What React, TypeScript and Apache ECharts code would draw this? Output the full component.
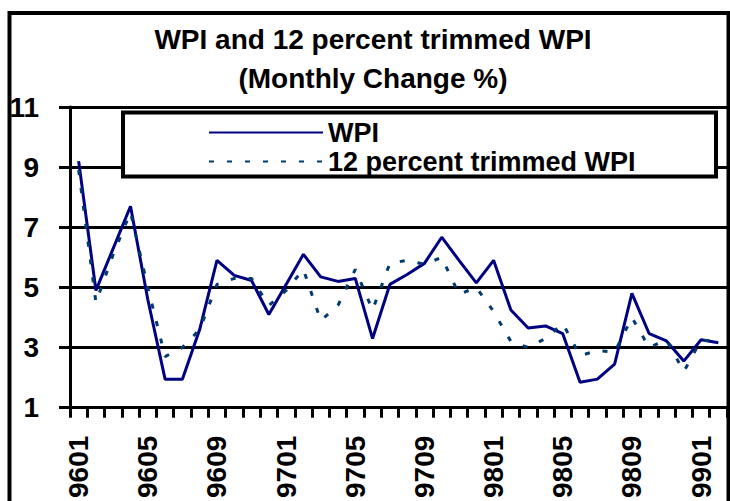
import React, { useEffect, useRef } from "react";
import * as echarts from "echarts";

const categories = [
  "9601", "9602", "9603", "9604", "9605", "9606", "9607", "9608", "9609", "9610", "9611", "9612",
  "9701", "9702", "9703", "9704", "9705", "9706", "9707", "9708", "9709", "9710", "9711", "9712",
  "9801", "9802", "9803", "9804", "9805", "9806", "9807", "9808", "9809", "9810", "9811", "9812",
  "9901", "9902",
];

const wpi = [
  9.2, 4.9, 6.3, 7.7, 4.6, 1.95, 1.95, 3.6, 5.9, 5.4, 5.23, 4.1,
  5.1, 6.1, 5.35, 5.2, 5.3, 3.3, 5.1, 5.43, 5.8, 6.67, 5.9, 5.15,
  5.9, 4.25, 3.65, 3.72, 3.46, 1.85, 1.95, 2.45, 4.8, 3.46, 3.22, 2.55,
  3.26, 3.16,
];

const trimmedWpi = [
  8.9, 4.5, 6.1, 7.5, 5.0, 2.7, 3.0, 3.6, 5.1, 5.3, 5.3, 4.4,
  4.9, 5.6, 3.9, 4.4, 5.6, 4.25, 5.8, 5.9, 5.77, 6.0, 4.77, 5.0,
  4.2, 3.2, 3.0, 3.3, 3.8, 2.73, 2.9, 2.85, 4.0, 3.0, 3.26, 2.2,
  3.25, 3.2,
];

const yTicks = { min: 1, max: 11, interval: 2 };

const FONT = '"Liberation Sans", Arial, sans-serif';

export default function App() {
  const ref = useRef<HTMLDivElement>(null);

  useEffect(() => {
    if (!ref.current) return;
    const chart = echarts.init(ref.current, undefined, { renderer: "svg" });
    chart.setOption({
      animation: false,
      backgroundColor: "#ffffff",
      title: {
        text: "WPI and 12 percent trimmed WPI\n(Monthly Change %)",
        left: 373,
        top: 20,
        textAlign: "center",
        padding: 0,
        textStyle: {
          fontFamily: FONT,
          fontSize: 28,
          fontWeight: "bold",
          color: "#000",
          lineHeight: 39,
        },
      },
      grid: { left: 70, right: 3, top: 107, bottom: 89, containLabel: false },
      legend: {
        orient: "vertical",
        left: 208,
        top: 118,
        padding: 0,
        itemWidth: 114,
        itemHeight: 10,
        itemGap: 0,
        z: 20,
        itemStyle: { opacity: 0 },
        textStyle: {
          fontFamily: FONT,
          fontSize: 27,
          fontWeight: "bold",
          color: "#000",
          lineHeight: 29,
        },
        data: ["WPI", "12 percent trimmed WPI"],
      },
      graphic: [
        {
          type: "rect",
          z: 15,
          shape: { x: 9.5, y: 13, width: 719, height: 520 },
          style: { fill: "none", stroke: "#000", lineWidth: 4 },
          silent: true,
        },
        {
          type: "rect",
          z: 15,
          shape: { x: 123, y: 112.5, width: 593, height: 64 },
          style: { fill: "#fff", stroke: "#000", lineWidth: 4 },
          silent: true,
        },
      ],
      xAxis: {
        type: "category",
        data: categories,
        boundaryGap: true,
        axisLine: { show: true, lineStyle: { color: "#000", width: 3 } },
        axisTick: {
          show: true,
          interval: 0,
          length: 10,
          lineStyle: { color: "#000", width: 3 },
        },
        axisLabel: {
          interval: 3,
          rotate: 90,
          margin: 28,
          color: "#000",
          fontFamily: FONT,
          fontSize: 28,
          fontWeight: "bold",
        },
        splitLine: { show: false },
      },
      yAxis: {
        type: "value",
        min: yTicks.min,
        max: yTicks.max,
        interval: yTicks.interval,
        axisLine: { show: true, lineStyle: { color: "#000", width: 3 } },
        axisTick: { show: true, length: 11, lineStyle: { color: "#000", width: 3 } },
        axisLabel: {
          margin: 31,
          color: "#000",
          fontFamily: FONT,
          fontSize: 28,
          fontWeight: "bold",
        },
        splitLine: { show: true, lineStyle: { color: "#000", width: 3 } },
      },
      series: [
        {
          name: "WPI",
          type: "line",
          data: wpi,
          symbol: "none",
          z: 3,
          lineStyle: { color: "#000080", width: 3 },
          itemStyle: { color: "#000080" },
        },
        {
          name: "12 percent trimmed WPI",
          type: "line",
          data: trimmedWpi,
          symbol: "none",
          z: 4,
          lineStyle: { color: "#003a6e", width: 3, type: [5, 13] },
          itemStyle: { color: "#003a6e" },
        },
      ],
    });
    return () => chart.dispose();
  }, []);

  return (
    <div
      ref={ref}
      style={{ position: "fixed", left: 0, top: 0, width: 730, height: 501, background: "#fff" }}
    />
  );
}
